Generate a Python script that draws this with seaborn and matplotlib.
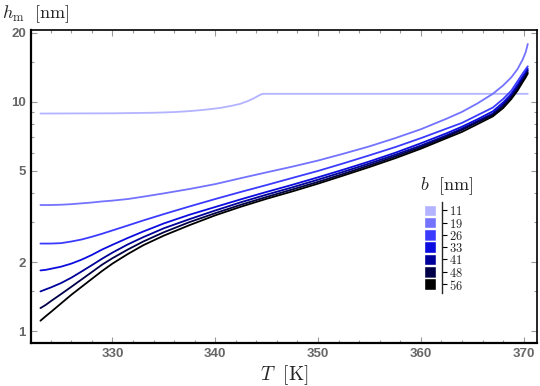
import numpy as np
import pandas as pd
import matplotlib
matplotlib.use("Agg")
import matplotlib.pyplot as plt
import matplotlib.ticker as mticker
import seaborn as sns

# values
b_values = [11, 19, 26, 33, 41, 48, 56]
colors = ["#b3b3ff", "#7373ff", "#3b3bff", "#0c0ce0", "#00009a", "#000048", "#000000"]

T_b11 = [323, 330, 334, 336, 337.5, 338.5, 339.5, 340.5, 341.5, 342.4, 343.2,
         343.8, 344.3, 344.6, 370.4]
h_b11 = [8.9, 8.92, 8.97, 9.03, 9.12, 9.2, 9.3, 9.42, 9.6, 9.8, 10.1,
         10.4, 10.7, 10.85, 10.85]

T_grid = [323, 323.5, 324, 325, 326, 327, 328, 329, 330, 331.5, 333, 335,
          337.5, 340, 342.5, 345, 347.5, 350, 352.5, 355, 357.5, 360, 362.5,
          364, 365.5, 367, 368, 368.8, 369.4, 369.9, 370.2, 370.4]
h_b19 = [3.55, 3.55, 3.55, 3.56, 3.58, 3.61, 3.64, 3.68, 3.71, 3.77, 3.86, 3.99,
         4.17, 4.38, 4.65, 4.93, 5.22, 5.55, 5.95, 6.4, 6.95, 7.6, 8.45,
         9.05, 9.85, 10.85, 11.8, 12.8, 13.9, 15.3, 16.5, 17.9]
h_b26 = [2.41, 2.41, 2.41, 2.42, 2.46, 2.51, 2.58, 2.66, 2.75, 2.89, 3.04, 3.24,
         3.50, 3.77, 4.05, 4.34, 4.66, 5.0, 5.4, 5.85, 6.35, 6.95, 7.65,
         8.1, 8.75, 9.45, 10.3, 11.2, 12.3, 13.3, 13.9, 14.3]
h_b33 = [1.84, 1.85, 1.87, 1.91, 1.97, 2.05, 2.15, 2.27, 2.38, 2.55, 2.72, 2.95,
         3.22, 3.48, 3.76, 4.05, 4.35, 4.69, 5.07, 5.5, 6.0, 6.6, 7.3,
         7.8, 8.4, 9.1, 9.95, 10.85, 11.9, 12.9, 13.5, 13.95]
h_b41 = [1.49, 1.52, 1.55, 1.62, 1.71, 1.82, 1.94, 2.07, 2.20, 2.39, 2.57, 2.81,
         3.08, 3.36, 3.65, 3.94, 4.24, 4.58, 4.96, 5.39, 5.88, 6.45, 7.15,
         7.65, 8.25, 8.9, 9.75, 10.65, 11.65, 12.65, 13.25, 13.75]
h_b48 = [1.26, 1.30, 1.35, 1.45, 1.56, 1.68, 1.81, 1.95, 2.08, 2.27, 2.46, 2.70,
         2.99, 3.27, 3.56, 3.85, 4.15, 4.48, 4.86, 5.29, 5.78, 6.35, 7.05,
         7.55, 8.15, 8.78, 9.58, 10.48, 11.42, 12.42, 13.0, 13.5]
h_b56 = [1.11, 1.16, 1.21, 1.32, 1.44, 1.56, 1.69, 1.83, 1.97, 2.17, 2.37, 2.61,
         2.90, 3.20, 3.49, 3.78, 4.07, 4.40, 4.78, 5.20, 5.68, 6.25, 6.95,
         7.4, 8.0, 8.65, 9.4, 10.3, 11.2, 12.2, 12.8, 13.3]

y_ticks = [1, 2, 5, 10, 20]
x_ticks = [330, 340, 350, 360, 370]

frames = [pd.DataFrame({"T": T_b11, "h": h_b11, "b": 11})]
for b, h in zip(b_values[1:], [h_b19, h_b26, h_b33, h_b41, h_b48, h_b56]):
    frames.append(pd.DataFrame({"T": T_grid, "h": h, "b": b}))
df = pd.concat(frames, ignore_index=True)

sns.set_style("ticks")
plt.rcParams["mathtext.fontset"] = "cm"
plt.rcParams["font.family"] = ["Liberation Sans", "DejaVu Sans"]

fig = plt.figure(figsize=(5.4, 3.86), dpi=100)
ax = fig.add_axes([0.057, 0.111, 0.9375, 0.81])

sns.lineplot(data=df, x="T", y="h", hue="b", palette=colors, legend=False,
             linewidth=1.3, ax=ax, sort=False)

ax.set_yscale("log")
ax.set_xlim(322.06, 371.3)
ax.set_ylim(0.886, 20.5)
ax.set_yticks(y_ticks)
ax.yaxis.set_major_formatter(mticker.FixedFormatter([str(v) for v in y_ticks]))
ax.set_yticks([1.5, 3, 4, 6, 7, 8, 9, 15], minor=True)
ax.yaxis.set_minor_formatter(mticker.NullFormatter())
ax.set_xticks(x_ticks)
ax.set_xticks(np.arange(324, 372, 2), minor=True)
ax.tick_params(which="both", direction="in", top=True, right=True,
               color="#999999", labelcolor="#666666", labelsize=9.5, width=0.8)
ax.tick_params(which="major", length=4)
ax.tick_params(which="minor", length=2.5)
for lab in ax.get_xticklabels() + ax.get_yticklabels():
    lab.set_fontweight("bold")
for side in ["left", "bottom"]:
    ax.spines[side].set_linewidth(1.6)
for side in ["top", "right"]:
    ax.spines[side].set_linewidth(1.2)
for sp in ax.spines.values():
    sp.set_color("black")

ax.set_xlabel(r"$T\ \ [\mathrm{K}]$", fontsize=14, labelpad=2)
ax.set_ylabel("")
fig.text(0.004, 1 - 14 / 386, r"$h_\mathrm{m}\ \ [\mathrm{nm}]$", fontsize=13,
         ha="left", va="center")

# discrete legend bar for b
lax = fig.add_axes([424 / 540, 1 - 292.7 / 386, 18.3 / 540, 91 / 386])
pos = np.arange(len(b_values))
lax.barh(pos, [1] * len(b_values), height=0.93, left=0, color=colors)
lax.set_xlim(0, 1.5)
lax.set_ylim(len(b_values) - 0.3, -0.7)
for side in ["left", "top", "bottom"]:
    lax.spines[side].set_visible(False)
lax.spines["right"].set_linewidth(1.0)
lax.set_xticks([])
lax.yaxis.tick_right()
lax.set_yticks(pos)
lax.set_yticklabels([f"${b}$" for b in b_values], fontsize=9)
lax.tick_params(axis="y", direction="out", length=3.5, width=0.8, pad=1.5,
                color="black", labelcolor="#222222")
fig.text(447 / 540, 1 - 186 / 386, r"$b\ \ [\mathrm{nm}]$", fontsize=13,
         ha="center", va="center")

fig.savefig("out.png", dpi=100)
